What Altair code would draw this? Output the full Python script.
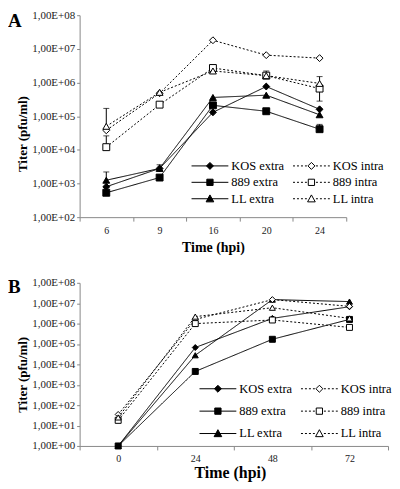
import altair as alt
import pandas as pd

SERIF = "Liberation Serif"

# legend order (column-major: first column = extra, second column = intra)
series = ["KOS extra", "889 extra", "LL extra", "KOS intra", "889 intra", "LL intra"]

# ---------------- Panel A ----------------
hpi_A = [6, 9, 16, 20, 24]
kos_extra_A = [8.0e2, 2.8e3, 1.3e5, 7.6e5, 1.6e5]
kos_intra_A = [3.8e4, 4.8e5, 1.8e7, 6.5e6, 5.3e6]
s889_extra_A = [5.3e2, 1.5e3, 2.1e5, 1.4e5, 4.1e4]
s889_intra_A = [1.2e4, 2.2e5, 2.7e6, 1.6e6, 6.6e5]
ll_extra_A = [1.25e3, 2.8e3, 3.6e5, 4.2e5, 1.1e5]
ll_intra_A = [5.0e4, 5.1e5, 2.2e6, 1.6e6, 9.4e5]

# error bar ends (None = no bar)
kos_extra_A_hi = [None, 3.6e3, None, None, None]
s889_extra_A_hi = [7.5e2, None, None, 1.7e5, 5.7e4]
ll_extra_A_hi = [2.2e3, None, None, None, None]
s889_intra_A_hi = [2.6e4, None, 3.3e6, 2.2e6, 1.5e6]
s889_intra_A_lo = [None, None, None, None, 2.8e5]
ll_intra_A_hi = [1.7e5, None, None, None, None]

# ---------------- Panel B ----------------
hpi_B = [0, 24, 48, 72]
kos_extra_B = [1.0, 6.7e4, 1.8e6, 6.7e6]
kos_intra_B = [35.0, 1.6e6, 1.5e7, 7.0e6]
s889_extra_B = [1.0, 4.5e3, 1.7e5, 1.6e6]
s889_intra_B = [18.0, 1.0e6, 1.5e6, 6.5e5]
ll_extra_B = [1.0, 2.8e4, 1.5e7, 1.2e7]
ll_intra_B = [25.0, 2.2e6, 6.0e6, 1.8e6]

ticks_A = [1e2, 1e3, 1e4, 1e5, 1e6, 1e7, 1e8]
ticks_B = [1e0, 1e1, 1e2, 1e3, 1e4, 1e5, 1e6, 1e7, 1e8]

SHAPES = {"KOS": "diamond", "889": "square", "LL": "triangle-up"}


def build_table(hpi, vals):
    rows = []
    for name in series:
        strain, kind = name.split()
        for h, y in zip(hpi, vals[name]):
            rows.append({"hpi": h, "series": name, "kind": kind, "value": y,
                         "shape": SHAPES[strain],
                         "fillc": "black" if kind == "extra" else "white"})
    return pd.DataFrame(rows)


def build_err(hpi, vals, his, los):
    bars, caps = [], []
    for name in his:
        hi_list = his[name]
        lo_list = los.get(name, [None] * len(hpi))
        for h, v, hi, lo in zip(hpi, vals[name], hi_list, lo_list):
            if hi is None and lo is None:
                continue
            top = hi if hi is not None else v
            bot = lo if lo is not None else v
            bars.append({"hpi": h, "lo": bot, "hi": top})
            if hi is not None:
                caps.append({"hpi": h, "v": hi})
            if lo is not None:
                caps.append({"hpi": h, "v": lo})
    return pd.DataFrame(bars, columns=["hpi", "lo", "hi"]), pd.DataFrame(caps, columns=["hpi", "v"])


# ---- legend symbols: line + marker drawn as custom symbol paths ----
K = 7.0            # px per path unit (symbol size 196)
L0 = -1.0
L1 = 30.0 / K
CX = (L0 + L1) / 2
M = 0.5
DASH = 2.0 / K
GAP = 2.0 / K


def fmt(v):
    return f"{v:.3f}"


def marker(shape):
    if shape == "diamond":
        return f"M{fmt(CX)},{fmt(-M)}L{fmt(CX + M)},0L{fmt(CX)},{fmt(M)}L{fmt(CX - M)},0Z"
    if shape == "square":
        s = 0.45
        return (f"M{fmt(CX - s)},{fmt(-s)}L{fmt(CX + s)},{fmt(-s)}"
                f"L{fmt(CX + s)},{fmt(s)}L{fmt(CX - s)},{fmt(s)}Z")
    return f"M{fmt(CX)},-0.55L{fmt(CX + 0.55)},0.45L{fmt(CX - 0.55)},0.45Z"


def dashes(a, b):
    out = []
    x = a
    while x < b - 1e-6:
        e = min(x + DASH, b)
        out.append(f"M{fmt(x)},0L{fmt(e)},0")
        x = e + GAP
    return "".join(out)


def legend_path(name):
    strain, kind = name.split()
    if kind == "extra":
        line = f"M{fmt(L0)},0L{fmt(L1)},0"
    else:
        line = dashes(L0, CX - M - 0.15) + dashes(CX + M + 0.15, L1)
    return line + marker(SHAPES[strain])


legend_paths = [legend_path(s) for s in series]
legend_fills = ["black" if s.endswith("extra") else "white" for s in series]

LABEL_EXPR = ("'1,00E+' + (round(log(datum.value)/LN10) < 10 ? '0' : '') + "
              "round(log(datum.value)/LN10)")


def panel(letter, letter_y, hpi, vals, his, los, ticks, width, height, msize,
          lx, ly, rowpad, xt_size, xt_x, xt_y, yt_y):
    df = build_table(hpi, vals)
    bars, caps = build_err(hpi, vals, his, los)

    xscale = alt.Scale(type="band", paddingInner=0, paddingOuter=0)
    yscale = alt.Scale(type="log", domain=[ticks[0], ticks[-1]], nice=False)
    xaxis = alt.Axis(title="Time (hpi)", titleFont=SERIF, titleFontSize=xt_size,
                     titleFontWeight="bold", titleColor="black",
                     titleBaseline="middle", titleX=xt_x, titleY=xt_y,
                     labelAngle=0, labelFont=SERIF, labelFontSize=10,
                     labelColor="#222", labelPadding=4, tickBand="extent",
                     tickSize=4, tickColor="#888", domainColor="#888", grid=False)
    yaxis = alt.Axis(values=ticks, labelExpr=LABEL_EXPR, title="Titer (pfu/ml)",
                     titleFont=SERIF, titleFontSize=13, titleFontWeight="bold",
                     titleColor="black", titleBaseline="middle", titleX=-57,
                     titleY=yt_y, labelFont=SERIF, labelFontSize=11,
                     labelColor="#222", labelPadding=2, labelOverlap=False,
                     tickSize=3, tickColor="#888", domainColor="#888", grid=False)

    x = alt.X("hpi:O", scale=xscale, axis=xaxis)
    y = alt.Y("value:Q", scale=yscale, axis=yaxis)

    base = alt.Chart(df)
    lines = base.mark_line(color="black", strokeWidth=1).encode(
        x=x, y=y, detail="series:N",
        strokeDash=alt.StrokeDash("kind:N", scale=alt.Scale(domain=["extra", "intra"],
                                                            range=[[1, 0], [2, 2]]),
                                  legend=None),
    )
    points = base.mark_point(filled=True, opacity=1, stroke="black",
                             strokeWidth=1, size=msize).encode(
        x=x, y=y,
        shape=alt.Shape("shape:N", scale=None),
        fill=alt.Fill("fillc:N", scale=None),
    )
    layers = [lines]
    if len(bars):
        rules = alt.Chart(bars).mark_rule(color="black", strokeWidth=1).encode(
            x=alt.X("hpi:O"), y=alt.Y("lo:Q"), y2="hi:Q")
        capm = alt.Chart(caps).mark_tick(color="black", thickness=1, size=6,
                                         orient="horizontal").encode(
            x=alt.X("hpi:O"), y=alt.Y("v:Q"))
        layers += [rules, capm]
    layers.append(points)

    leg = alt.Legend(title=None, orient="none", legendX=lx, legendY=ly, columns=2,
                     columnPadding=6, rowPadding=rowpad, symbolSize=196,
                     symbolStrokeColor="black", symbolStrokeWidth=1,
                     symbolOpacity=1, labelFont=SERIF, labelFontSize=12.5,
                     labelColor="black", labelOffset=25.5, labelLimit=300,
                     padding=0)
    legend_df = pd.DataFrame({"series": series})
    legend_layer = alt.Chart(legend_df).mark_point(
        filled=True, opacity=1, stroke="black", strokeWidth=1
    ).encode(
        shape=alt.Shape("series:N", sort=series,
                        scale=alt.Scale(domain=series, range=legend_paths),
                        legend=leg),
        fill=alt.Fill("series:N", sort=series,
                      scale=alt.Scale(domain=series, range=legend_fills),
                      legend=leg),
    ).transform_filter("false")
    layers.append(legend_layer)

    letter_layer = alt.Chart(pd.DataFrame({"t": [letter]})).mark_text(
        font=SERIF, fontSize=19, fontWeight="bold", align="left",
        baseline="alphabetic", color="black"
    ).encode(text="t:N", x=alt.value(-72), y=alt.value(letter_y))
    layers.append(letter_layer)

    return alt.layer(*layers).properties(width=width, height=height)


vals_A = {"KOS extra": kos_extra_A, "KOS intra": kos_intra_A,
          "889 extra": s889_extra_A, "889 intra": s889_intra_A,
          "LL extra": ll_extra_A, "LL intra": ll_intra_A}
his_A = {"KOS extra": kos_extra_A_hi, "889 extra": s889_extra_A_hi,
         "LL extra": ll_extra_A_hi, "889 intra": s889_intra_A_hi,
         "LL intra": ll_intra_A_hi}
los_A = {"889 intra": s889_intra_A_lo}

vals_B = {"KOS extra": kos_extra_B, "KOS intra": kos_intra_B,
          "889 extra": s889_extra_B, "889 intra": s889_intra_B,
          "LL extra": ll_extra_B, "LL intra": ll_intra_B}

chart_A = panel("A", 12, hpi_A, vals_A, his_A, los_A, ticks_A, 268, 203, 48,
                112, 144, 2.5, 14, 134, 31, 119)
chart_B = panel("B", 10, hpi_B, vals_B, {}, {}, ticks_B, 310, 164, 36,
                120, 99, 8.5, 16, 151, 27, 92)

chart = alt.vconcat(chart_A, chart_B, spacing=22).resolve_scale(
    shape="independent", fill="independent"
).resolve_legend(
    shape="independent", fill="independent"
).properties(padding=0, background="white").configure_view(stroke=None)

chart.save("out.html", embed_options={"renderer": "svg", "actions": False})
